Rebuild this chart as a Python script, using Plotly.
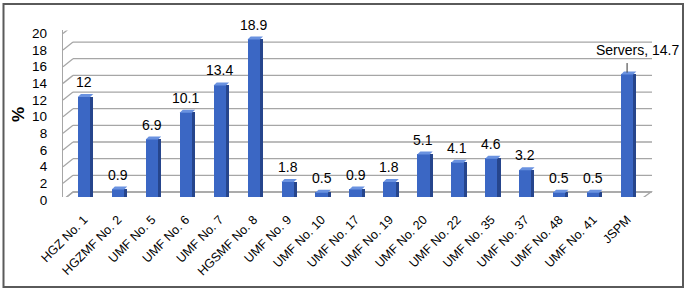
import plotly.graph_objects as go

# ---- data ----
categories = ["HGZ No. 1", "HGZMF No. 2", "UMF No. 5", "UMF No. 6", "UMF No. 7",
              "HGSMF No. 8", "UMF No. 9", "UMF No. 10", "UMF No. 17", "UMF No. 19",
              "UMF No. 20", "UMF No. 22", "UMF No. 35", "UMF No. 37", "UMF No. 48",
              "UMF No. 41", "JSPM"]
values = [12, 0.9, 6.9, 10.1, 13.4, 18.9, 1.8, 0.5, 0.9, 1.8,
          5.1, 4.1, 4.6, 3.2, 0.5, 0.5, 14.7]
series_name = "Servers"
y_title = "%"
y_ticks = [0, 2, 4, 6, 8, 10, 12, 14, 16, 18, 20]
y_tick_labels = [str(t) for t in y_ticks]

# ---- geometry helpers (figure pixels -> paper) ----
W, H = 690, 293
def px(x):
    return x / W
def py(y):
    return 1 - y / H

FONT = "Arial, Liberation Sans, sans-serif"
FRONT = "#3b67c4"
SIDE = "#26458c"
TOP = "#6a92e0"
GRID = "#a6a6a6"

CAT_W = 0.362   # front face width in category units
SIDE_W = 0.09

fig = go.Figure()
fig.add_trace(go.Bar(x=categories, y=values, width=CAT_W, offset=-CAT_W / 2,
                     marker=dict(color=FRONT, line=dict(width=0)),
                     hoverinfo="x+y", showlegend=False, name=series_name))
fig.add_trace(go.Bar(x=categories, y=values, width=SIDE_W, offset=CAT_W / 2,
                     marker=dict(color=SIDE, line=dict(width=0)),
                     hoverinfo="skip", showlegend=False))

shapes = []
# floor
shapes.append(dict(type="path", xref="paper", yref="y", ysizemode="pixel", yanchor=0,
                   path=f"M {px(63)},-3 L {px(640)},-3 L {px(651)},5 L {px(73)},5 Z",
                   line=dict(color=GRID, width=1.3), fillcolor="white", layer="below"))
# wall slants and back gridlines
for t in y_ticks:
    shapes.append(dict(type="line", xref="paper", yref="y", ysizemode="pixel", yanchor=t,
                       x0=px(63), x1=px(73), y0=-3, y1=5,
                       line=dict(color=GRID, width=1.3), layer="below"))
    shapes.append(dict(type="line", xref="paper", yref="y", ysizemode="pixel", yanchor=t,
                       x0=px(73), x1=px(652), y0=5, y1=5,
                       line=dict(color=GRID, width=1.3), layer="below"))
# bar caps (top faces)
for c, v in zip(categories, values):
    shapes.append(dict(type="path", xref="x", yref="y", xsizemode="pixel", ysizemode="pixel",
                       xanchor=c, yanchor=v,
                       path="M -6.2,0 L 6.2,0 L 9.3,3 L -3.1,3 Z",
                       fillcolor=TOP, line=dict(width=0)))
# outer border
shapes.append(dict(type="rect", xref="paper", yref="paper",
                   x0=px(3.5), x1=px(683), y0=py(287), y1=py(4),
                   line=dict(color="#5a5a5a", width=2)))

annotations = []
for i, (c, v) in enumerate(zip(categories, values)):
    if i == len(categories) - 1:
        annotations.append(dict(x=c, y=v, xref="x", yref="y", text="",
                                showarrow=True, arrowhead=0, arrowwidth=1,
                                arrowcolor="#333333", ax=0, ay=-13, standoff=2))
        annotations.append(dict(x=c, y=v, xref="x", yref="y",
                                text=f"{series_name}, {v:g}", showarrow=False,
                                xshift=10.5, yshift=24.5, yanchor="middle",
                                font=dict(family=FONT, size=14, color="black")))
    else:
        annotations.append(dict(x=c, y=v, xref="x", yref="y", text=f"{v:g}",
                                showarrow=False, yanchor="middle", yshift=15,
                                font=dict(family=FONT, size=14, color="black")))
# y-axis title
annotations.append(dict(x=px(18), y=py(115), xref="paper", yref="paper",
                        text=f"<b>{y_title}</b>", textangle=-90, showarrow=False,
                        xanchor="center", yanchor="middle",
                        font=dict(family=FONT, size=17, color="black")))

fig.update_layout(
    width=W, height=H,
    margin=dict(l=0, r=0, t=0, b=0, autoexpand=False),
    paper_bgcolor="white", plot_bgcolor="rgba(0,0,0,0)",
    barmode="overlay", bargap=0,
    font=dict(family=FONT, color="black"),
    shapes=shapes, annotations=annotations,
    xaxis=dict(type="category", domain=[px(63), px(641)], range=[-0.619, 16.41],
               tickangle=-45, showgrid=False, showline=False, zeroline=False,
               ticks="", ticklabelstandoff=12, automargin=False,
               tickfont=dict(family=FONT, size=12.5, color="black")),
    yaxis=dict(domain=[py(197), py(30.4)], range=[0, 20],
               tickvals=y_ticks, ticktext=y_tick_labels, automargin=False,
               showgrid=False, zeroline=False, showline=True, linecolor=GRID, linewidth=1.3,
               ticks="", ticklabelstandoff=12, ticklabelshift=3,
               tickfont=dict(family=FONT, size=13.5, color="black")),
)

fig.write_html("out.html", config={"displayModeBar": False},
               post_script="document.body.style.margin='0';document.body.style.padding='0';")
